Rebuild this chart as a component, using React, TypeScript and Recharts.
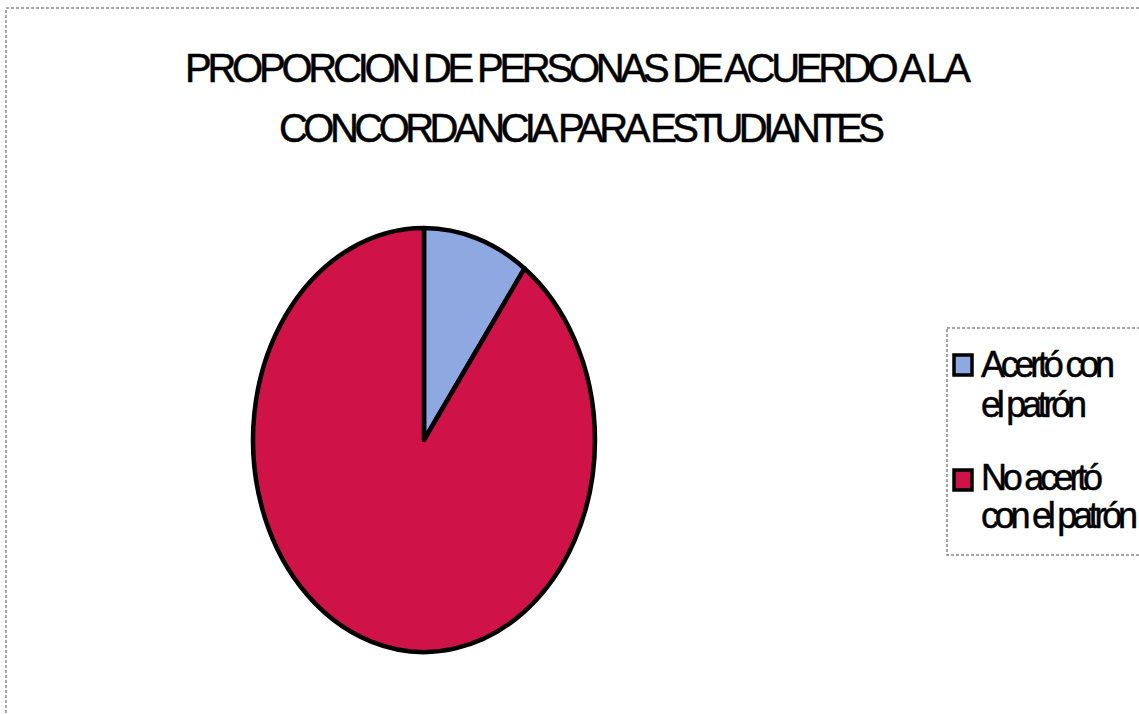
import { PieChart, Pie, Cell } from "recharts";

// values
const categories = ["Acertó con el patrón", "No acertó con el patrón"];
const shares = [10, 90];
const colors = ["#8ea8e2", "#cf1248"];
const legendLines = [
  ["Acertó con", "el patrón"],
  ["No acertó", "con el patrón"],
];
const titleLines = [
  "PROPORCION DE PERSONAS DE ACUERDO A LA",
  "CONCORDANCIA PARA ESTUDIANTES",
];

const data = categories.map((name, i) => ({ name, value: shares[i] }));

// the original pie is drawn taller than it is wide
const STRETCH = 1.24;
const RAD = Math.PI / 180;

function EllipseSlice(props: any) {
  const { cx, cy, outerRadius, startAngle, endAngle, fill } = props;
  const rx = outerRadius;
  const ry = outerRadius * STRETCH;
  const pt = (a: number) => [
    cx + rx * Math.cos(-a * RAD),
    cy + ry * Math.sin(-a * RAD),
  ];
  const [x0, y0] = pt(startAngle);
  const [x1, y1] = pt(endAngle);
  const delta = endAngle - startAngle;
  const large = Math.abs(delta) > 180 ? 1 : 0;
  const sweep = delta < 0 ? 1 : 0;
  const d = `M${cx},${cy}L${x0},${y0}A${rx},${ry} 0 ${large} ${sweep} ${x1},${y1}Z`;
  return (
    <path
      d={d}
      fill={fill}
      stroke="#000"
      strokeWidth={4.5}
      strokeLinejoin="round"
    />
  );
}

const titleFit = [
  { x: 185, y: 82, w: 786 },
  { x: 279, y: 142, w: 606 },
];
const legendFit = [
  [
    { y: 377, w: 134 },
    { y: 417, w: 106 },
  ],
  [
    { y: 490, w: 122 },
    { y: 528, w: 157 },
  ],
];
const swatchY = [355, 470];

export default function App() {
  return (
    <div
      style={{
        position: "absolute",
        left: 0,
        top: 0,
        width: 1139,
        height: 714,
        background: "#fff",
        overflow: "hidden",
      }}
    >
      <div style={{ position: "absolute", left: 0, top: 0 }}>
        <PieChart
          width={1139}
          height={714}
          margin={{ top: 0, right: 0, bottom: 0, left: 0 }}
        >
          <Pie
            data={data}
            dataKey="value"
            nameKey="name"
            cx={424}
            cy={440}
            outerRadius={171}
            startAngle={90}
            endAngle={-270}
            stroke="#000"
            shape={EllipseSlice}
            activeShape={EllipseSlice}
            inactiveShape={EllipseSlice}
            isAnimationActive={false}
          >
            {data.map((d, i) => (
              <Cell key={d.name} fill={colors[i]} />
            ))}
          </Pie>
        </PieChart>
      </div>
      <svg
        width={1139}
        height={714}
        style={{ position: "absolute", left: 0, top: 0, pointerEvents: "none" }}
        fontFamily="'Liberation Sans', Arial, sans-serif"
      >
        <rect
          x={6}
          y={8}
          width={1200}
          height={800}
          fill="none"
          stroke="#8a8a8a"
          strokeWidth={1.5}
          strokeDasharray="3 2"
        />
        {titleLines.map((t, i) => (
          <text
            key={t}
            x={titleFit[i].x}
            y={titleFit[i].y}
            fontSize={40}
            fill="#000"
            stroke="#000"
            strokeWidth={0.5}
            textLength={titleFit[i].w}
            lengthAdjust="spacing"
          >
            {t}
          </text>
        ))}
        <rect
          x={947}
          y={328}
          width={260}
          height={227}
          fill="none"
          stroke="#8a8a8a"
          strokeWidth={1.5}
          strokeDasharray="3 2"
        />
        {categories.map((c, i) => (
          <g key={c}>
            <rect
              x={954}
              y={swatchY[i]}
              width={18}
              height={20}
              fill={colors[i]}
              stroke="#000"
              strokeWidth={3.5}
            />
            {legendLines[i].map((line, j) => (
              <text
                key={line}
                x={981}
                y={legendFit[i][j].y}
                fontSize={36}
                fill="#000"
                stroke="#000"
                strokeWidth={0.5}
                textLength={legendFit[i][j].w}
                lengthAdjust="spacing"
              >
                {line}
              </text>
            ))}
          </g>
        ))}
      </svg>
    </div>
  );
}
